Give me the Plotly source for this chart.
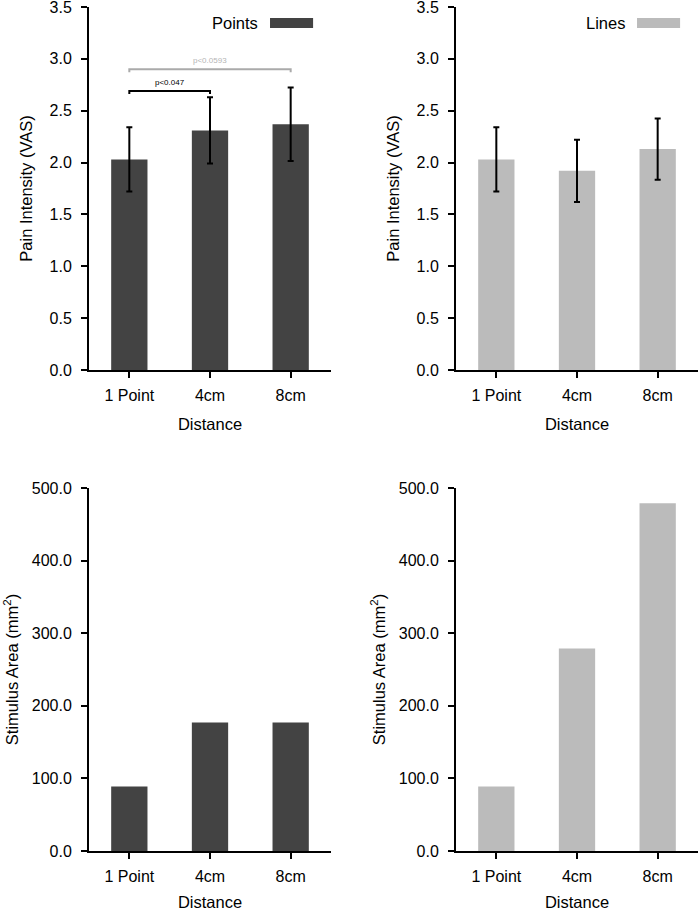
from plotly.subplots import make_subplots
import plotly.graph_objects as go
import plotly.io as pio

pio.templates.default = "simple_white"

# data
distances = ["1 Point", "4cm", "8cm"]
pain_points = [2.03, 2.31, 2.37]
pain_points_err = [0.31, 0.32, 0.355]
pain_lines = [2.03, 1.92, 2.13]
pain_lines_err = [0.31, 0.30, 0.295]
area_points = [89, 177, 177]
area_lines = [89, 279, 479]

# significance brackets on the points panel: (from, to, label, level, colour)
brackets = [
    (0, 1, "p<0.047", 2.69, "#000000"),
    (0, 2, "p<0.0593", 2.90, "#aaaaaa"),
]

DARK = "#434343"
LIGHT = "#bbbbbb"
FONT = "Liberation Sans, Arial, Helvetica, sans-serif"

fig = make_subplots(rows=2, cols=2)

def bar(y, color, err=None):
  ey = None
  if err is not None:
    ey = dict(type="data", array=err, color="black", thickness=2, width=3)
  return go.Bar(x=distances, y=y, marker=dict(color=color, line=dict(width=0)),
                width=0.45, error_y=ey, showlegend=False)

fig.add_trace(bar(pain_points, DARK, pain_points_err), row=1, col=1)
fig.add_trace(bar(pain_lines, LIGHT, pain_lines_err), row=1, col=2)
fig.add_trace(bar(area_points, DARK), row=2, col=1)
fig.add_trace(bar(area_lines, LIGHT), row=2, col=2)

# brackets
for a, b, label, lvl, col in brackets:
  fig.add_trace(go.Scatter(x=[distances[a], distances[a], distances[b], distances[b]],
                           y=[lvl - 0.03, lvl, lvl, lvl - 0.03], mode="lines",
                           line=dict(color=col, width=2), showlegend=False,
                           hoverinfo="skip"), row=1, col=1)
  fig.add_annotation(x=(a + b) / 2, y=lvl, xref="x", yref="y", text=label,
                     showarrow=False, yanchor="bottom", yshift=2,
                     font=dict(size=8, color="#000000" if col == "#000000" else "#b5b5b5"))

# legend boxes, text on the left of the swatch
for ax, label, color in [("x", "Points", DARK), ("x2", "Lines", LIGHT)]:
  yax = ax.replace("x", "y")
  fig.add_shape(type="rect", xref=f"{ax} domain", yref=f"{yax} domain",
                x0=0.748, x1=0.926, y0=0.942, y1=0.970, opacity=1,
                fillcolor=color, line=dict(width=0))
  fig.add_annotation(xref=f"{ax} domain", yref=f"{yax} domain", x=0.707, y=0.956,
                     text=label, showarrow=False, xanchor="right", yanchor="middle",
                     font=dict(size=16.5, color="#000000"))

W, H = 699, 911
xdom_l = [89 / W, 331 / W]
xdom_r = [456 / W, 698 / W]
ydom_t = [1 - 370 / H, 1 - 7 / H]
ydom_b = [1 - 851 / H, 1 - 488 / H]

axis_style = dict(showline=True, linecolor="black", linewidth=2, ticks="outside",
                  ticklen=6, tickwidth=2, tickcolor="black", showgrid=False,
                  zeroline=False, automargin=False, ticklabeloverflow="allow",
                  tickfont=dict(size=16, color="black"), mirror=False)

for i, (xd, yd) in enumerate([(xdom_l, ydom_t), (xdom_r, ydom_t),
                              (xdom_l, ydom_b), (xdom_r, ydom_b)], start=1):
  r, c = (i - 1) // 2 + 1, (i - 1) % 2 + 1
  fig.update_xaxes(domain=xd, range=[-0.5, 2.5], row=r, col=c, ticklabelstandoff=4,
                   title=dict(text="Distance", standoff=15, font=dict(size=16.5)),
                   **axis_style)
  if r == 1:
    fig.update_yaxes(domain=yd, range=[0, 3.5], tickvals=[0, 0.5, 1, 1.5, 2, 2.5, 3, 3.5],
                     tickformat=".1f", row=r, col=c, ticklabelstandoff=6,
                     title=dict(text="Pain Intensity (VAS)", standoff=13, font=dict(size=16.5)),
                     **axis_style)
  else:
    fig.update_yaxes(domain=yd, range=[0, 500], tickvals=[0, 100, 200, 300, 400, 500],
                     tickformat=".1f", row=r, col=c, ticklabelstandoff=6,
                     title=dict(text="Stimulus Area (mm<sup>2</sup>)", standoff=9,
                                font=dict(size=16.5)),
                     **axis_style)

fig.update_layout(width=W, height=H, margin=dict(l=0, r=0, t=0, b=0),
                  paper_bgcolor="white", plot_bgcolor="white",
                  font=dict(family=FONT, size=16, color="black"))

fig.write_html("out.html", config={"displayModeBar": False},
               post_script="document.body.style.margin='0';document.body.style.padding='0';")
